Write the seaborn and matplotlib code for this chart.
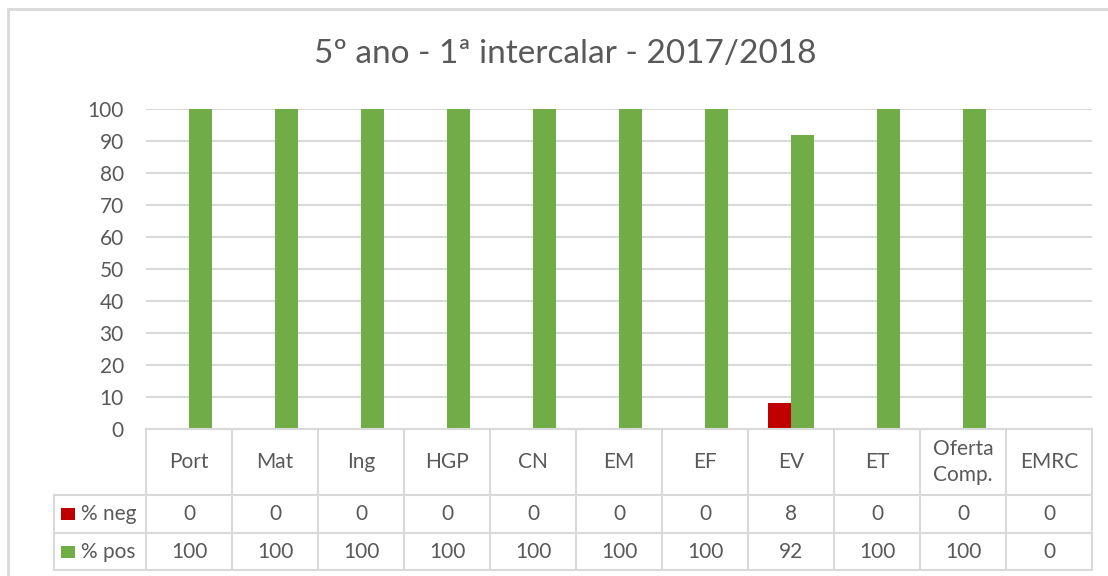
import numpy as np
import pandas as pd
import matplotlib
matplotlib.use('Agg')
import matplotlib.pyplot as plt
import seaborn as sns
from matplotlib.patches import Rectangle
from matplotlib.lines import Line2D

# Data
subjects = ['Port', 'Mat', 'Ing', 'HGP', 'CN', 'EM', 'EF', 'EV', 'ET', 'Oferta\nComp.', 'EMRC']
neg = [0, 0, 0, 0, 0, 0, 0, 8, 0, 0, 0]
pos = [100, 100, 100, 100, 100, 100, 100, 92, 100, 100, 0]
series = ['% neg', '% pos']
colors = ['#C00000', '#70AD47']
title = '5º ano - 1ª intercalar - 2017/2018'

df = pd.DataFrame({'Disciplina': subjects * 2,
                   'Serie': [series[0]] * len(subjects) + [series[1]] * len(subjects),
                   'Valor': neg + pos})

sns.set_style('white')
plt.rcParams['font.family'] = ['Lato', 'DejaVu Sans']
txt = '#595959'
grid = '#D9D9D9'

W, H = 1108, 576
fig = plt.figure(figsize=(W / 100, H / 100), dpi=100)

def fx(px):
    return px / W

def fy(py):
    return 1 - py / H

x0, x1, ytop, ybot = 146, 1092, 109, 429
ax = fig.add_axes([fx(x0), fy(ybot), fx(x1) - fx(x0), fy(ytop) - fy(ybot)])
sns.barplot(data=df, x='Disciplina', y='Valor', hue='Serie', palette=colors,
            width=0.54, gap=0, dodge=True, saturation=1, linewidth=0,
            ax=ax, legend=False)
ax.set_xlim(-0.5, len(subjects) - 0.5)
ax.set_ylim(0, 100)
ax.set_yticks(range(0, 101, 10))
ax.yaxis.grid(True, color=grid, linewidth=1.5)
ax.set_axisbelow(True)
for s in ax.spines.values():
    s.set_visible(False)
ax.set_xticks([])
ax.set_xlabel('')
ax.set_ylabel('')
ax.tick_params(axis='y', length=0, pad=16, labelsize=15, labelcolor=txt)

# outer frame
fig.patches.append(Rectangle((fx(8), fy(H + 5)), 1.2, fy(9) - fy(H + 5), transform=fig.transFigure,
                             fill=False, edgecolor=grid, linewidth=2))

fig.text(fx(565), fy(54), title, ha='center', va='center', fontsize=24, color=txt)

# data table
rows = [429, 495, 533, 570]
left = 54
colw = (x1 - x0) / len(subjects)

def hline(y, xa, xb):
    fig.add_artist(Line2D([fx(xa), fx(xb)], [fy(y), fy(y)], color=grid, linewidth=1.5))

def vline(x, ya, yb):
    fig.add_artist(Line2D([fx(x), fx(x)], [fy(ya), fy(yb)], color=grid, linewidth=1.5))

hline(rows[0], x0, x1)
for r in rows[1:]:
    hline(r, left, x1)
vline(left, rows[1], rows[3])
for i in range(len(subjects) + 1):
    vline(x0 + i * colw, rows[0], rows[3])

for i, name in enumerate(subjects):
    cx = fx(x0 + (i + 0.5) * colw)
    fig.text(cx, fy((rows[0] + rows[1]) / 2), name, ha='center', va='center',
             fontsize=15, color=txt, linespacing=1.35)
    fig.text(cx, fy((rows[1] + rows[2]) / 2), str(neg[i]), ha='center', va='center',
             fontsize=15, color=txt)
    fig.text(cx, fy((rows[2] + rows[3]) / 2), str(pos[i]), ha='center', va='center',
             fontsize=15, color=txt)

for k, (lab, c) in enumerate(zip(series, colors)):
    yc = (rows[k + 1] + rows[k + 2]) / 2
    fig.patches.append(Rectangle((fx(61), fy(yc + 6)), fx(14), fy(0) - fy(12),
                                 transform=fig.transFigure, facecolor=c, edgecolor='none'))
    fig.text(fx(81), fy(yc), lab, ha='left', va='center', fontsize=15, color=txt)

fig.savefig('out.png', dpi=100)
